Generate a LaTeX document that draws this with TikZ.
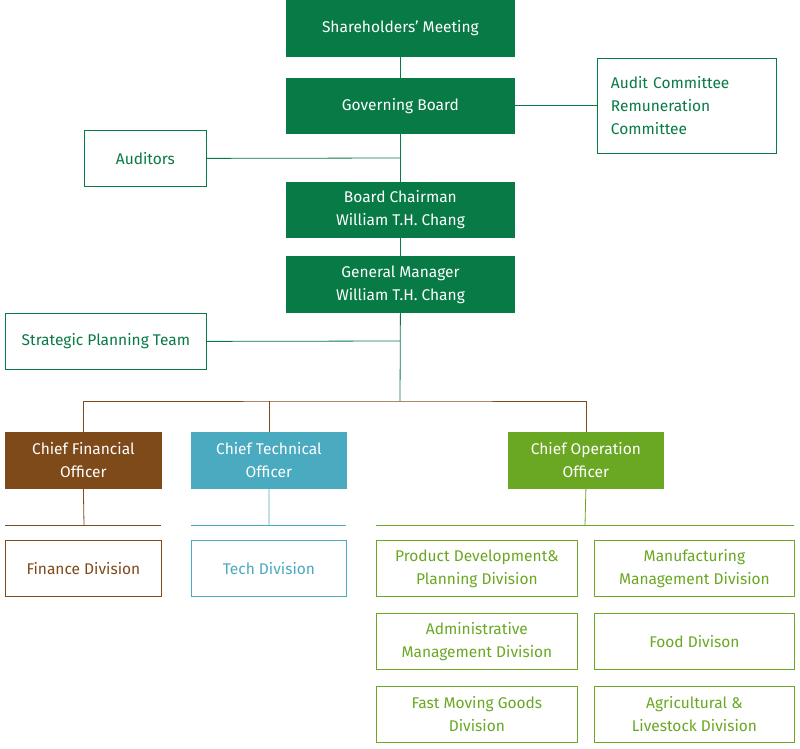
\documentclass[tikz,border=0pt]{standalone}
\usepackage{fontspec}
\setmainfont{Fira Sans}
\begin{document}
\definecolor{dg}{HTML}{087A45}
\definecolor{br}{HTML}{7F4A1A}
\definecolor{tl}{HTML}{4AAABF}
\definecolor{lm}{HTML}{6AA823}
\begin{tikzpicture}[x=1pt,y=-1pt,
  box/.style={draw=#1,line width=0.8pt,inner sep=0pt,align=center,font=\fontsize{15.5}{23}\selectfont},
  fbox/.style={box=#1,fill=#1,text=white},
  obox/.style={box=#1,fill=white,text=#1},
  ln/.style={draw=#1,line width=0.8pt}]
\useasboundingbox (0,0) rectangle (800,749);
\newcommand{\bx}[7]{\node[#1,minimum width=#4pt,minimum height=#5pt,anchor=north west] (#2) at (#3) {#6};}
\bx{fbox=dg}{sh}{286,0}{228}{56}{Shareholders' Meeting}{}
\bx{fbox=dg}{gb}{286,78}{228}{55}{Governing Board}{}
\node[obox=dg,minimum width=179pt,minimum height=95pt,anchor=north west,align=left,text width=160pt] (ac) at (597,58) {\hspace*{4pt}Audit Committee\\\hspace*{4pt}Remuneration\\\hspace*{4pt}Committee};
\bx{obox=dg}{au}{84,130}{122}{56}{Auditors}{}
\bx{fbox=dg}{bc}{286,182}{228}{55}{Board Chairman\\William T.H. Chang}{}
\bx{fbox=dg}{gm}{286,256}{228}{56}{General Manager\\William T.H. Chang}{}
\bx{obox=dg}{sp}{5,313}{201}{56}{Strategic Planning Team}{}
\bx{fbox=br}{cfo}{5,432}{156}{56}{Chief Financial\\Officer}{}
\bx{fbox=tl}{cto}{191,432}{155}{56}{Chief Technical\\Officer}{}
\bx{fbox=lm}{coo}{508,432}{155}{56}{Chief Operation\\Officer}{}
\bx{obox=br}{fd}{5,540}{156}{56}{Finance Division}{}
\bx{obox=tl}{td}{191,540}{155}{56}{Tech Division}{}
\bx{obox=lm}{pd}{376,540}{201}{56}{Product Development\&\\Planning Division}{}
\bx{obox=lm}{md}{594,540}{200}{56}{Manufacturing\\Management Division}{}
\bx{obox=lm}{ad}{376,613}{201}{56}{Administrative\\Management Division}{}
\bx{obox=lm}{fo}{594,613}{200}{56}{Food Divison}{}
\bx{obox=lm}{fm}{376,686}{201}{56}{Fast Moving Goods\\Division}{}
\bx{obox=lm}{ag}{594,686}{200}{56}{Agricultural \&\\Livestock Division}{}
\coordinate (hub) at (400,401);
\draw[ln=dg] (sh.south) -- (gb.north);
\draw[ln=dg] (gb.south) -- (bc.north);
\draw[ln=dg] (bc.south) -- (gm.north);
\draw[ln=dg] (gm.south) -- (hub);
\draw[ln=dg] (gb.east) -- (ac.west |- gb.east);
\draw[ln=dg] (au.east) -- (400,158);
\draw[ln=dg] (sp.east) -- (400,341);
\draw[ln=br] (cfo.north) |- (hub) -| (coo.north);
\draw[ln=br] (cto.north) -- (cto.north |- hub);
\draw[ln=br] (cfo.south) -- (84,525);
\draw[ln=br] (5,525) -- (161,525);
\draw[ln=tl] (cto.south) -- (269,525);
\draw[ln=tl] (191,525) -- (346,525);
\draw[ln=lm] (coo.south) -- (585,525);
\draw[ln=lm] (376,525) -- (794,525);
\end{tikzpicture}
\end{document}
